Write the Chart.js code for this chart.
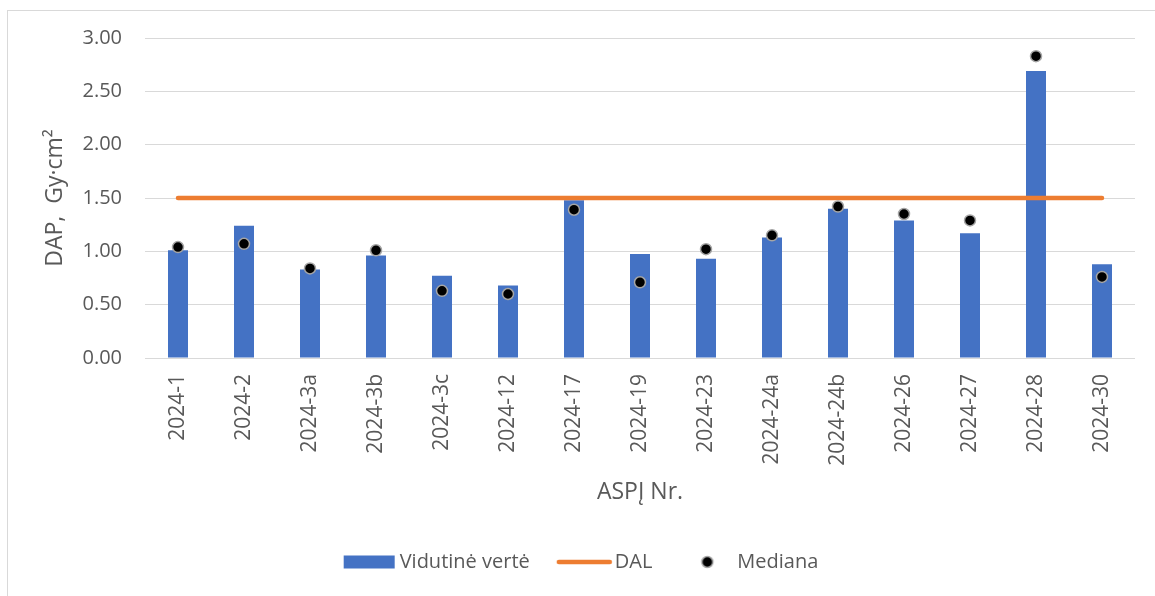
<!DOCTYPE html>
<html>
<head>
<meta charset="utf-8">
<script src="https://cdn.jsdelivr.net/npm/chart.js@4/dist/chart.umd.min.js"></script>
<style>
  html, body { margin: 0; padding: 0; background: #fff; overflow: hidden; }
  #wrap { position: relative; width: 1155px; height: 596px; overflow: hidden; }
  #frame { position: absolute; left: 7px; top: 10px; width: 1300px; height: 800px; border: 1px solid #d9d9d9; box-sizing: border-box; }
  #c { position: absolute; left: 0; top: 0; }
</style>
</head>
<body>
<div id="wrap">
  <div id="frame"></div>
  <canvas id="c" width="1155" height="596"></canvas>
</div>
<script>
const categories = ['2024-1','2024-2','2024-3a','2024-3b','2024-3c','2024-12','2024-17','2024-19','2024-23','2024-24a','2024-24b','2024-26','2024-27','2024-28','2024-30'];
const meanValues = [1.01, 1.24, 0.83, 0.96, 0.77, 0.68, 1.48, 0.975, 0.93, 1.13, 1.40, 1.29, 1.17, 2.69, 0.88];
const dalValues = [1.5, 1.5, 1.5, 1.5, 1.5, 1.5, 1.5, 1.5, 1.5, 1.5, 1.5, 1.5, 1.5, 1.5, 1.5];
const medianValues = [1.04, 1.07, 0.84, 1.01, 0.63, 0.60, 1.39, 0.71, 1.02, 1.15, 1.42, 1.35, 1.29, 2.83, 0.76];
const yTicks = [0, 0.5, 1.0, 1.5, 2.0, 2.5, 3.0];
const seriesNames = ['Vidutinė vertė', 'DAL', 'Mediana'];

const BLUE = '#4472C4', ORANGE = '#ED7D31', TEXT = '#595959', GRID = '#D9D9D9';
const FONT = '"Open Sans", "Noto Sans", sans-serif';

function makeIcon(kind) {
  const cv = document.createElement('canvas');
  cv.width = 71; cv.height = 16;
  const g = cv.getContext('2d');
  if (kind === 'bar') {
    g.fillStyle = BLUE; g.fillRect(15, 1.5, 51, 13);
  } else if (kind === 'line') {
    g.strokeStyle = ORANGE; g.lineWidth = 4.5; g.lineCap = 'round';
    g.beginPath(); g.moveTo(15, 8); g.lineTo(66, 8); g.stroke();
  } else {
    g.fillStyle = '#000'; g.strokeStyle = '#A5A5A5'; g.lineWidth = 1.5;
    g.beginPath(); g.arc(41, 8, 5.5, 0, Math.PI * 2); g.fill(); g.stroke();
  }
  return cv;
}
const icons = [makeIcon('bar'), makeIcon('line'), makeIcon('dot')];

const legendShift = {
  id: 'legendShift',
  afterLayout(chart) {
    if (chart.legend) { chart.legend.left += 6; chart.legend.right += 6; }
  }
};

new Chart(document.getElementById('c'), {
  data: {
    labels: categories,
    datasets: [
      { type: 'bar', label: seriesNames[0], data: meanValues, backgroundColor: BLUE, borderWidth: 0,
        barPercentage: 0.6, categoryPercentage: 0.505, order: 3 },
      { type: 'line', label: seriesNames[1], data: dalValues, borderColor: ORANGE, borderWidth: 4.5,
        borderCapStyle: 'round', pointRadius: 0, fill: false, order: 2 },
      { type: 'line', label: seriesNames[2], data: medianValues, showLine: false, pointRadius: 5.5,
        pointBackgroundColor: '#000', pointBorderColor: '#A5A5A5', pointBorderWidth: 1.5, order: 1 }
    ]
  },
  plugins: [legendShift],
  options: {
    responsive: false,
    animation: false,
    devicePixelRatio: 1,
    events: [],
    layout: { padding: { left: 10, right: 20, top: 38, bottom: 14 } },
    plugins: {
      tooltip: { enabled: false },
      legend: {
        position: 'bottom',
        labels: {
          usePointStyle: true,
          pointStyleWidth: 51,
          boxHeight: 16,
          padding: 24,
          color: TEXT,
          font: { family: FONT, size: 20 },
          generateLabels: () => seriesNames.map((n, i) => ({
            text: n, pointStyle: icons[i], fillStyle: 'transparent', strokeStyle: 'transparent',
            lineWidth: 0, fontColor: TEXT, datasetIndex: i, hidden: false
          }))
        }
      }
    },
    scales: {
      x: {
        grid: { display: false, drawTicks: false },
        border: { display: false },
        ticks: { color: TEXT, font: { family: FONT, size: 21 }, minRotation: 90, maxRotation: 90, padding: 16, autoSkip: false },
        title: { display: true, text: 'ASPĮ Nr.', color: TEXT, font: { family: FONT, size: 23 }, padding: { top: 0, bottom: 22 } },
        afterFit: (s) => { s.height = 170; }
      },
      y: {
        min: 0, max: 3,
        afterBuildTicks: (s) => { s.ticks = yTicks.map(v => ({ value: v })); },
        grid: { color: GRID, lineWidth: 1, drawTicks: false },
        border: { display: false },
        ticks: { color: TEXT, font: { family: FONT, size: 20 }, padding: 23, callback: (v) => v.toFixed(2) },
        title: { display: true, text: 'DAP,  Gy·cm²', color: TEXT, font: { family: FONT, size: 23 }, padding: { top: 32, bottom: 0 } },
        afterFit: (s) => { s.width = 135; }
      }
    }
  }
});
</script>
</body>
</html>
